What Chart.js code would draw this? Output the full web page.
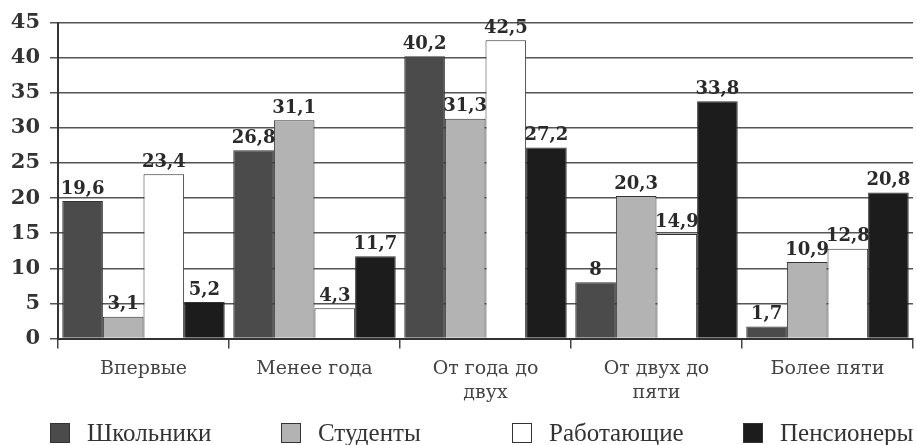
<!DOCTYPE html>
<html>
<head>
<meta charset="utf-8">
<script src="https://cdn.jsdelivr.net/npm/chart.js@4/dist/chart.umd.min.js"></script>
<style>
html,body{margin:0;padding:0;background:#fff;}
#wrap{width:916px;height:445px;position:relative;}
</style>
</head>
<body>
<div id="wrap"><canvas id="c" width="916" height="445"></canvas></div>
<script>
const categories = ["Впервые", "Менее года", ["От года до", "двух"], ["От двух до", "пяти"], "Более пяти"];
const seriesNames = ["Школьники", "Студенты", "Работающие", "Пенсионеры"];
const schoolchildren = [19.6, 26.8, 40.2, 8, 1.7];
const students = [3.1, 31.1, 31.3, 20.3, 10.9];
const workers = [23.4, 4.3, 42.5, 14.9, 12.8];
const pensioners = [5.2, 11.7, 27.2, 33.8, 20.8];
const yTicks = [0, 5, 10, 15, 20, 25, 30, 35, 40, 45];

const fills = ["#4b4b4b", "#b3b3b3", "#ffffff", "#1c1c1c"];
const seriesValues = [schoolchildren, students, workers, pensioners];

const valueLabels = {
  id: 'valueLabels',
  afterDatasetsDraw(chart) {
    const ctx = chart.ctx;
    ctx.save();
    ctx.font = 'bold 18px "DejaVu Serif"';
    ctx.fillStyle = '#2a2a2a';
    ctx.textAlign = 'center';
    ctx.textBaseline = 'bottom';
    chart.data.datasets.forEach((ds, di) => {
      const meta = chart.getDatasetMeta(di);
      meta.data.forEach((bar, i) => {
        const txt = String(ds.data[i]).replace('.', ',');
        ctx.fillText(txt, bar.x, bar.y - 3);
      });
    });
    ctx.restore();
  }
};

const customLegend = {
  id: 'customLegend',
  afterDraw(chart) {
    const ctx = chart.ctx;
    ctx.save();
    const y = 433;
    chart.data.datasets.forEach((ds, i) => {
      const x = 50 + i * 231;
      ctx.fillStyle = ds.backgroundColor;
      ctx.fillRect(x, y - 10, 20, 20);
      ctx.strokeStyle = '#333';
      ctx.lineWidth = 1;
      ctx.strokeRect(x + 0.5, y - 9.5, 19, 19);
      ctx.font = '25px "Liberation Serif"';
      ctx.fillStyle = '#333';
      ctx.textAlign = 'left';
      ctx.textBaseline = 'middle';
      ctx.fillText(ds.label, x + 37, y + 1);
    });
    ctx.restore();
  }
};

new Chart(document.getElementById('c'), {
  type: 'bar',
  data: {
    labels: categories,
    datasets: seriesNames.map((n, i) => ({
      label: n,
      data: seriesValues[i],
      backgroundColor: fills[i],
      borderColor: '#333',
      borderWidth: 1,
      categoryPercentage: 0.95,
      barPercentage: 1.0
    }))
  },
  options: {
    responsive: false,
    animation: false,
    devicePixelRatio: 1,
    layout: { padding: { top: 22, right: 3, bottom: 31, left: 0 } },
    plugins: {
      legend: { display: false },
      tooltip: { enabled: false },
      title: { display: false }
    },
    scales: {
      x: {
        offset: true,
        grid: {
          offset: true,
          drawOnChartArea: false,
          drawTicks: true,
          tickLength: 10,
          color: '#444',
          lineWidth: 1.5
        },
        border: { display: true, color: '#333', width: 2 },
        ticks: {
          font: { family: 'DejaVu Serif', size: 19, lineHeight: 1.25 },
          color: '#444',
          padding: 9,
          maxRotation: 0,
          autoSkip: false
        }
      },
      y: {
        min: 0,
        max: 45,
        afterBuildTicks(scale) { scale.ticks = yTicks.map(v => ({ value: v })); },
        afterFit(scale) { scale.width = 58; },
        grid: {
          color: '#555',
          lineWidth: 1.5,
          drawTicks: true,
          tickLength: 8
        },
        border: { display: true, color: '#333', width: 2 },
        ticks: {
          font: { family: 'DejaVu Serif', size: 21, weight: 'bold' },
          color: '#333',
          padding: 10
        }
      }
    }
  },
  plugins: [valueLabels, customLegend]
});
</script>
</body>
</html>
